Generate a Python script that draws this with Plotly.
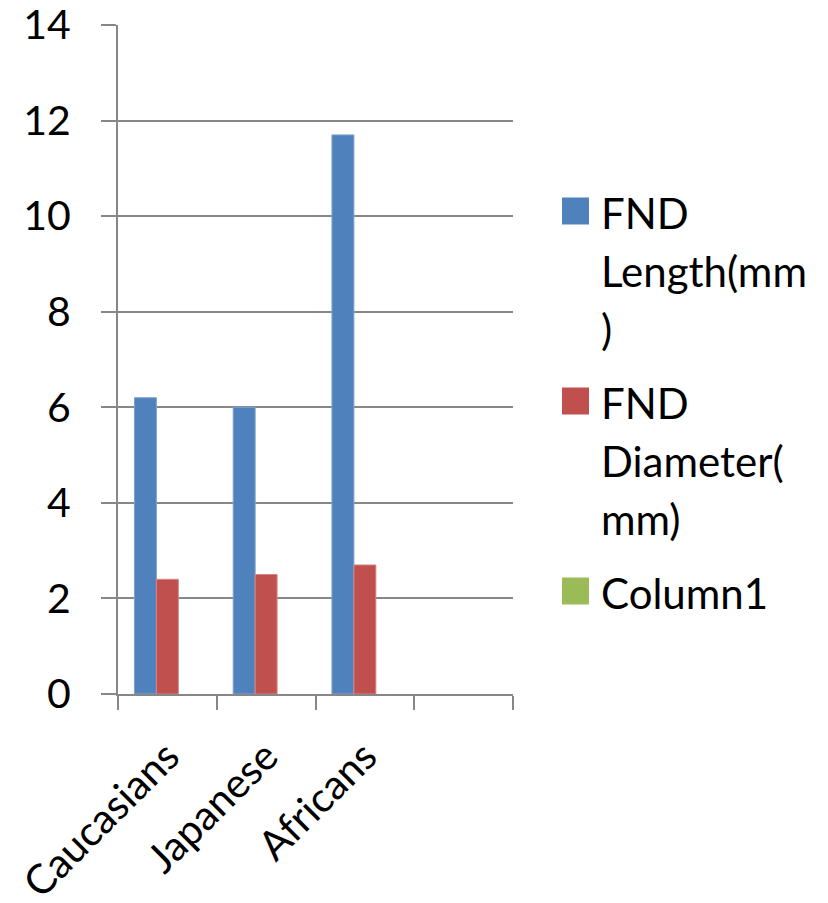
import plotly.graph_objects as go

categories = ["Caucasians", "Japanese", "Africans", " "]
fnd_length = [6.2, 6.0, 11.7, None]
fnd_diameter = [2.4, 2.5, 2.7, None]
column1 = [None, None, None, None]
series_names = ["FND Length(mm)", "FND Diameter(mm)", "Column1"]
legend_lines = [["FND", "Length(mm", ")"], ["FND", "Diameter(", "mm)"], ["Column1"]]
series_colors = ["#4F81BD", "#C0504D", "#9BBB59"]
border_colors = ["#7FA1CF", "#D88583", "#B5CD85"]
y_ticks = [0, 2, 4, 6, 8, 10, 12, 14]

FONT = "Lato"
FS = 41
W, H = 828, 903
L, T = 118, 25
PW, PH = 395, 669
R, B = W - L - PW, H - T - PH

fig = go.Figure()
for vals, name, col, bcol in zip([fnd_length, fnd_diameter, column1], series_names,
                                 series_colors, border_colors):
    fig.add_trace(go.Bar(x=categories, y=vals, name=name, showlegend=False,
                         marker=dict(color=col, line=dict(color=bcol, width=1))))

# custom legend (large square swatches, wrapped labels); pixel positions in screen coords
def px_x(px):
    return (px - L) / PW

def px_y(py):
    return (T + PH - py) / PH

item_first_line = [211, 401, 591]
line_step = 58
shapes, annotations = [], []
for lines, col, cy in zip(legend_lines, series_colors, item_first_line):
    shapes.append(dict(type="rect", xref="paper", yref="paper",
                       x0=px_x(562), x1=px_x(589), y0=px_y(cy - 13.5), y1=px_y(cy + 13.5),
                       fillcolor=col, line=dict(width=0)))
    for i, txt in enumerate(lines):
        annotations.append(dict(xref="paper", yref="paper", x=px_x(599), y=px_y(cy + i * line_step + 2),
                                xanchor="left", yanchor="middle", text=txt, showarrow=False,
                                font=dict(family=FONT, size=FS + 1, color="black")))

fig.update_layout(
    width=W, height=H,
    margin=dict(l=L, r=R, t=T, b=B, autoexpand=False),
    paper_bgcolor="white", plot_bgcolor="white",
    barmode="group", bargap=0.333, bargroupgap=0,
    font=dict(family=FONT, size=FS, color="black"),
    showlegend=False,
    shapes=shapes, annotations=annotations,
)
fig.update_xaxes(
    type="category", tickangle=-45, tickson="boundaries", automargin=False,
    ticks="outside", ticklen=14, tickwidth=2, tickcolor="#878787",
    showline=True, linecolor="#878787", linewidth=2,
    showgrid=False, tickfont=dict(family=FONT, size=FS), ticklabelstandoff=20,
    ticklabeloverflow="allow",
)
fig.update_yaxes(
    range=[0, 14], tickvals=y_ticks, automargin=False,
    ticks="outside", ticklen=15, tickwidth=2, tickcolor="#878787",
    showline=True, linecolor="#878787", linewidth=2,
    showgrid=True, gridcolor="#878787", gridwidth=2,
    zeroline=False, ticklabelstandoff=22, ticklabeloverflow="allow",
    tickfont=dict(family=FONT, size=FS),
)
fig.write_html("out.html", config={"displayModeBar": False},
               post_script="document.body.style.margin='0px';document.body.style.overflow='hidden';")
